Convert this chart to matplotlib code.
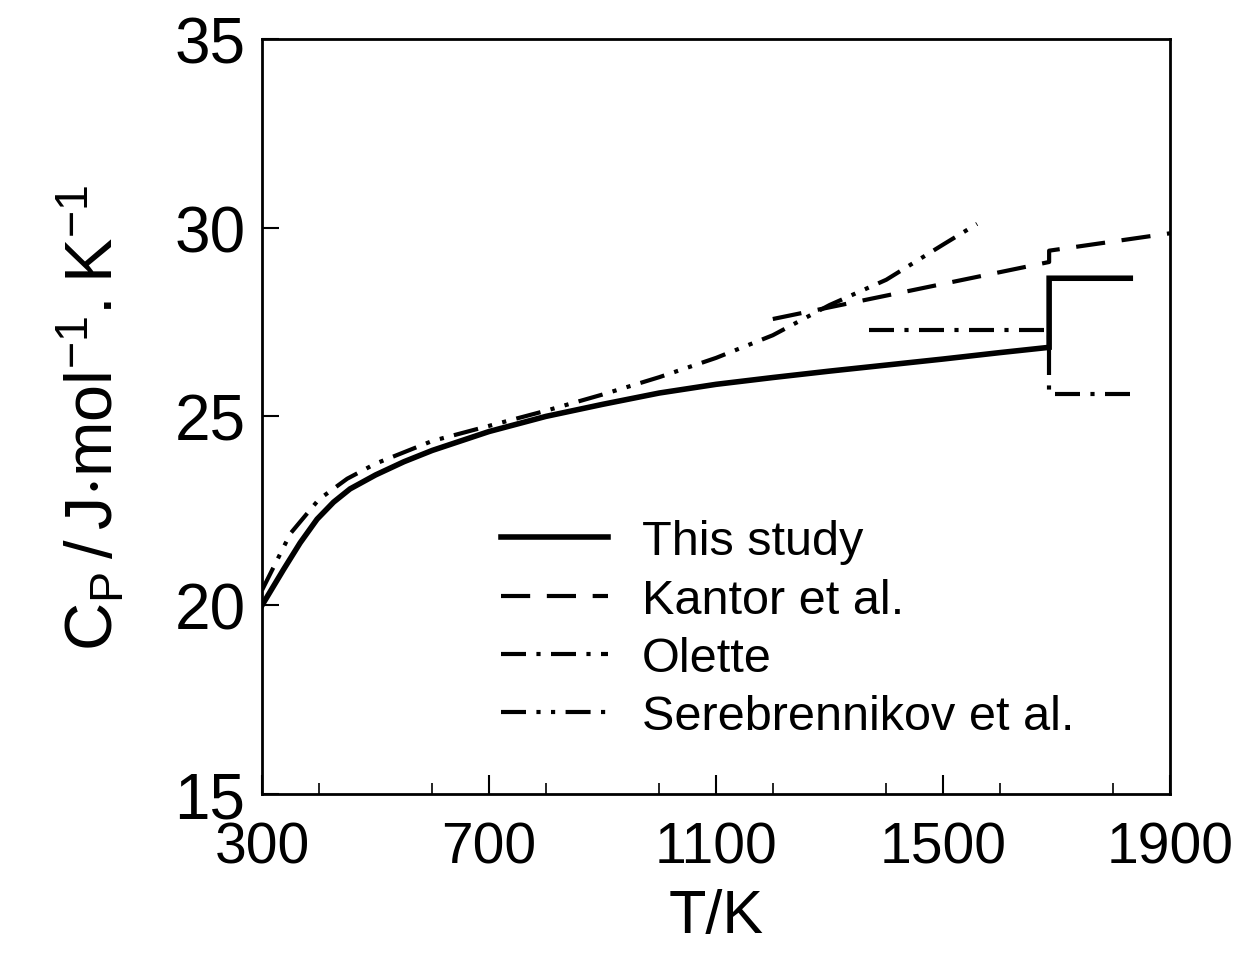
import matplotlib
matplotlib.use("Agg")
import matplotlib.pyplot as plt
from matplotlib.ticker import FixedLocator, MultipleLocator

# This study (solid): solid phase up to melting, then liquid
this_t = [300, 338, 367, 397, 426, 455, 500, 550, 600, 700, 800, 900, 1000,
          1100, 1200, 1300, 1400, 1500, 1600, 1687, 1687, 1830]
this_cp = [20.0, 20.95, 21.65, 22.28, 22.73, 23.08, 23.45, 23.8, 24.1, 24.6,
           25.0, 25.32, 25.62, 25.85, 26.03, 26.2, 26.36, 26.52, 26.69, 26.83,
           28.66, 28.66]

# Kantor et al. (dashed)
kantor_t = [1200, 1687, 1687, 1900]
kantor_cp = [27.58, 29.09, 29.39, 29.85]

# Olette (dash-dot)
olette_t = [1370, 1687, 1687, 1830]
olette_cp = [27.29, 27.29, 25.6, 25.6]

# Serebrennikov et al. (dash-dot-dot)
sereb_t = [300, 350, 400, 450, 500, 600, 700, 800, 900, 1000, 1100, 1200,
           1300, 1400, 1500, 1560]
sereb_cp = [20.4, 21.9, 22.8, 23.35, 23.75, 24.35, 24.75, 25.15, 25.58, 26.04,
            26.55, 27.15, 27.95, 28.62, 29.55, 30.1]

labels = ["This study", "Kantor et al.", "Olette", "Serebrennikov et al."]
x_ticklabels = [300, 700, 1100, 1500, 1900]
y_ticks = [15, 20, 25, 30, 35]

plt.rcParams["font.family"] = ["Liberation Sans", "DejaVu Sans"]

fig = plt.figure(figsize=(12.48, 9.54), dpi=100)
ax = fig.add_axes([0.21, 0.1667, 0.7275, 0.7915])

l1, = ax.plot(this_t, this_cp, color="black", lw=4.0, solid_joinstyle="miter")
l2, = ax.plot(kantor_t, kantor_cp, color="black", lw=3.0, dashes=(7, 4))
l3, = ax.plot(olette_t, olette_cp, color="black", lw=3.0, dashes=(6, 2.5, 1, 2.5))
l4, = ax.plot(sereb_t, sereb_cp, color="black", lw=3.0,
              dashes=(6, 2.5, 1, 2.5, 1, 2.5))

ax.set_xlim(300, 1900)
ax.set_ylim(15, 35)

ax.xaxis.set_major_locator(FixedLocator(x_ticklabels))
ax.xaxis.set_minor_locator(MultipleLocator(200))
ax.yaxis.set_major_locator(FixedLocator(y_ticks))
ax.tick_params(axis="x", which="major", direction="in", length=14, width=1.5,
               top=False, pad=19, labelsize=41)
ax.tick_params(axis="x", which="minor", direction="in", length=8, width=1.2,
               top=False)
ax.tick_params(axis="y", which="major", direction="in", length=12, width=1.5,
               right=False, pad=12, labelsize=46)

for sp in ax.spines.values():
    sp.set_linewidth(2)

ax.set_xlabel("T/K", fontsize=44, labelpad=10)
ax.set_ylabel(r"$\mathregular{C_P\,/\,J{\cdot}mol^{-1}.K^{-1}}$", fontsize=48,
              labelpad=34)

ax.legend([l1, l2, l3, l4], labels, loc="upper left",
          bbox_to_anchor=(0.236, 0.396), frameon=False, fontsize=35,
          handlelength=2.2, handletextpad=0.7, labelspacing=0.275, borderpad=0)

fig.savefig("out.png", dpi=100)
